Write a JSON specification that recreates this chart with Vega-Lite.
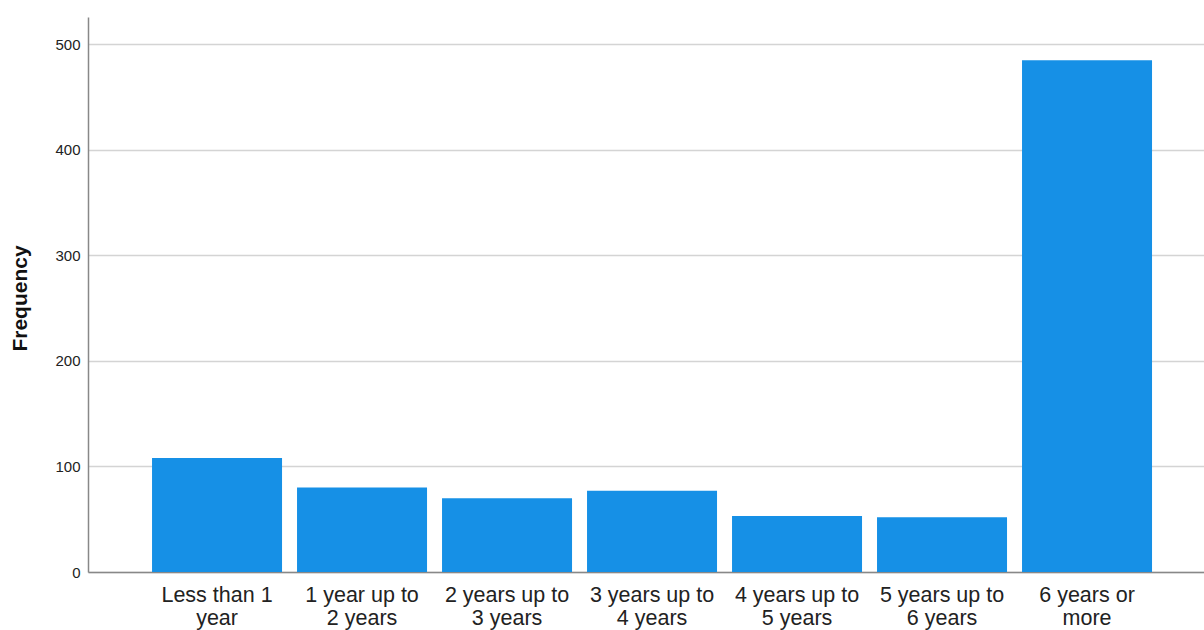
{
  "$schema": "https://vega.github.io/schema/vega-lite/v6.json",
  "width": 1116,
  "height": 555,
  "autosize": {"type": "none"},
  "padding": {"left": 88, "top": 17, "right": 0, "bottom": 58},
  "background": "white",
  "config": {
    "view": {"stroke": null},
    "font": "Liberation Sans"
  },
  "data": {
    "values": [
      {"category": "Less than 1 year", "frequency": 108},
      {"category": "1 year up to 2 years", "frequency": 80},
      {"category": "2 years up to 3 years", "frequency": 70},
      {"category": "3 years up to 4 years", "frequency": 77},
      {"category": "4 years up to 5 years", "frequency": 53},
      {"category": "5 years up to 6 years", "frequency": 52},
      {"category": "6 years or more", "frequency": 485}
    ]
  },
  "mark": {"type": "bar", "color": "#1690E6"},
  "encoding": {
    "x": {
      "field": "category",
      "type": "nominal",
      "sort": null,
      "scale": {"paddingInner": 0.1034, "paddingOuter": 0.4, "align": 0.552},
      "axis": {
        "title": null,
        "labelAngle": 0,
        "labelFontSize": 21.5,
        "labelColor": "#222222",
        "labelLineHeight": 23,
        "labelPadding": 12,
        "labelBaseline": "top",
        "ticks": false,
        "domainColor": "#888888",
        "domainWidth": 1.5,
        "labelExpr": "indexof(datum.value, 'up to') > 0 ? [slice(datum.value, 0, indexof(datum.value, 'up to') + 5), slice(datum.value, indexof(datum.value, 'up to') + 6)] : datum.value == 'Less than 1 year' ? ['Less than 1', 'year'] : ['6 years or', 'more']"
      }
    },
    "y": {
      "field": "frequency",
      "type": "quantitative",
      "scale": {"domain": [0, 526], "nice": false},
      "axis": {
        "title": "Frequency",
        "titleFontSize": 21,
        "titleFontWeight": "bold",
        "titleColor": "#111111",
        "titleAngle": -90,
        "titleX": -68,
        "titleY": 281,
        "titleAlign": "center",
        "titleBaseline": "middle",
        "values": [0, 100, 200, 300, 400, 500],
        "labelFontSize": 15,
        "labelColor": "#222222",
        "labelPadding": 8,
        "ticks": false,
        "grid": true,
        "gridColor": "#d4d4d4",
        "gridWidth": 1.5,
        "domainColor": "#888888",
        "domainWidth": 1.5
      }
    }
  }
}
